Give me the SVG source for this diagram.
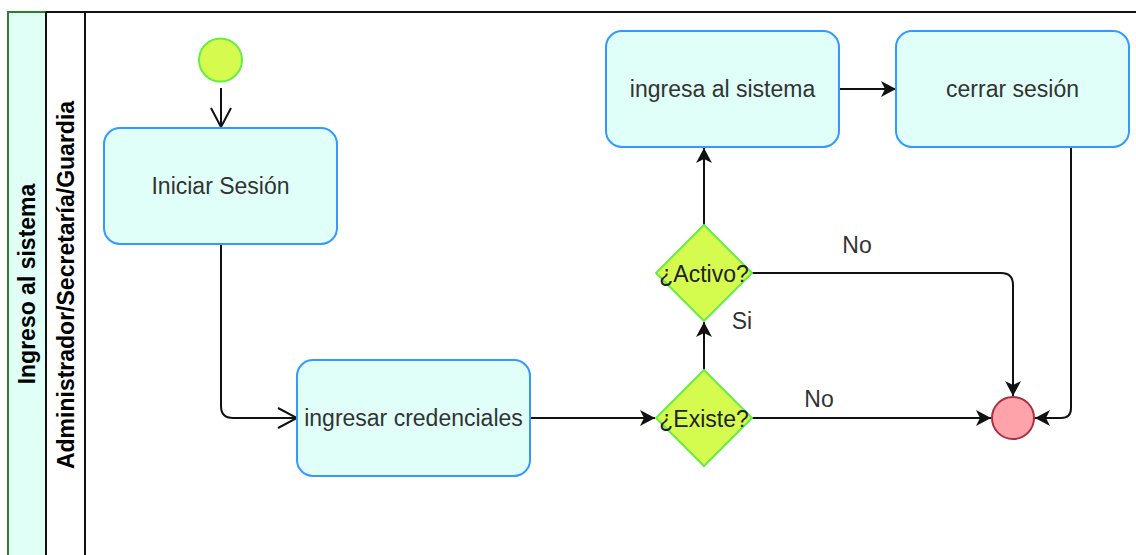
<svg xmlns="http://www.w3.org/2000/svg" width="1136" height="555" viewBox="0 0 1136 555">
<style>
.lbl{font-family:"Liberation Sans",Arial,sans-serif;font-size:23px;fill:#333;text-anchor:middle}
.dlbl{font-family:"Liberation Sans",Arial,sans-serif;font-size:23px;fill:#222;text-anchor:middle}
.hdr{font-family:"Liberation Sans",Arial,sans-serif;font-size:23px;font-weight:bold;fill:#000;text-anchor:middle}
.act{fill:#e0fff8;stroke:#3399ff;stroke-width:2}
.dec{fill:#d6fb4f;stroke:#66ee44;stroke-width:2}
.edge{fill:none;stroke:#111;stroke-width:2}
</style>
<defs>
<marker id="block" markerUnits="userSpaceOnUse" markerWidth="16" markerHeight="18" refX="15" refY="8" orient="auto" viewBox="0 0 16 16">
<path d="M0,0 L15,8 L0,16 L4,8 z" fill="#111"/>
</marker>
<marker id="open" markerUnits="userSpaceOnUse" markerWidth="22" markerHeight="24" refX="19" refY="10" orient="auto" viewBox="-1 -1 22 22">
<path d="M0,0 L19,10 L0,20" fill="none" stroke="#111" stroke-width="2"/>
</marker>
</defs>
<rect width="1136" height="555" fill="#fff"/>
<g id="pool">
<rect x="8" y="12" width="38" height="560" fill="#e0fff6" stroke="#2e7d32" stroke-width="2"/>
<line x1="46" y1="12" x2="1136" y2="12" stroke="#111" stroke-width="2"/>
<line x1="46" y1="12" x2="46" y2="560" stroke="#111" stroke-width="2"/>
<line x1="85" y1="12" x2="85" y2="560" stroke="#111" stroke-width="2"/>
<text class="hdr" transform="translate(35,284) rotate(-90)">Ingreso al sistema</text>
<text class="hdr" transform="translate(74,285) rotate(-90)">Administrador/Secretaría/Guardia</text>
</g>
<g id="edges">
<path class="edge" d="M221,88 L221,127" marker-end="url(#open)"/>
<path class="edge" d="M221,244 L221,406 Q221,418 233,418 L297,418" marker-end="url(#open)"/>
<path class="edge" d="M530,418 L655,418" marker-end="url(#block)"/>
<path class="edge" d="M704,370 L704,322" marker-end="url(#block)"/>
<path class="edge" d="M704,225 L704,148" marker-end="url(#block)"/>
<path class="edge" d="M839,89 L896,89" marker-end="url(#block)"/>
<path class="edge" d="M752,273 L1001,273 Q1013,273 1013,285 L1013,396" marker-end="url(#block)"/>
<path class="edge" d="M752,418 L991,418" marker-end="url(#block)"/>
<path class="edge" d="M1071,148 L1071,408 Q1071,418 1061,418 L1035,418" marker-end="url(#block)"/>
<text class="lbl" x="742" y="329">Si</text>
<text class="lbl" x="857" y="253">No</text>
<text class="lbl" x="819" y="407">No</text>
</g>
<g id="start">
<circle cx="220.5" cy="60" r="21.5" fill="#d6fb4f" stroke="#66ee44" stroke-width="2"/>
</g>
<g id="iniciar">
<rect class="act" x="104" y="128" width="233" height="116" rx="16"/>
<text class="lbl" x="220.5" y="194">Iniciar Sesión</text>
</g>
<g id="credenciales">
<rect class="act" x="297" y="360" width="233" height="116" rx="16"/>
<text class="lbl" x="413.5" y="426">ingresar credenciales</text>
</g>
<g id="existe">
<polygon class="dec" points="704,370 752,418 704,466 656,418"/>
<text class="dlbl" x="704" y="427">¿Existe?</text>
</g>
<g id="activo">
<polygon class="dec" points="704,225 752,273 704,321 656,273"/>
<text class="dlbl" x="704" y="282">¿Activo?</text>
</g>
<g id="ingresa">
<rect class="act" x="606" y="31" width="233" height="116" rx="16"/>
<text class="lbl" x="722.5" y="97">ingresa al sistema</text>
</g>
<g id="cerrar">
<rect class="act" x="896" y="31" width="233" height="116" rx="16"/>
<text class="lbl" x="1012.5" y="97">cerrar sesión</text>
</g>
<g id="end">
<circle cx="1013" cy="418" r="21" fill="#ffa3ab" stroke="#a83040" stroke-width="2"/>
</g>
</svg>
